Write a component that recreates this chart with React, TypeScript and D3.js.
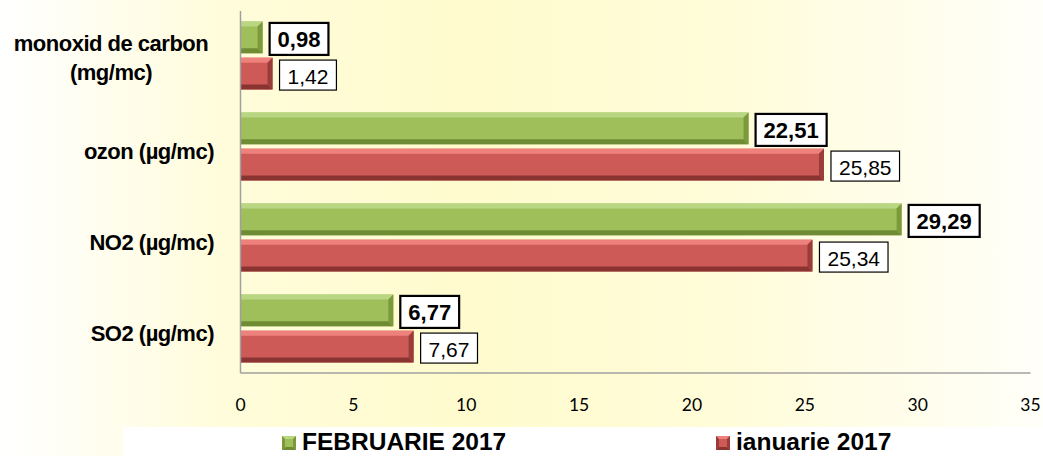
import React, { useEffect, useRef } from "react";
import * as d3 from "d3";

const categories: string[][] = [
  ["monoxid de carbon", "(mg/mc)"],
  ["ozon (µg/mc)"],
  ["NO2 (µg/mc)"],
  ["SO2 (µg/mc)"],
];
const seriesNames = ["FEBRUARIE 2017", "ianuarie 2017"];
const febValues = [0.98, 22.51, 29.29, 6.77];
const janValues = [1.42, 25.85, 25.34, 7.67];
const xTicks = [0, 5, 10, 15, 20, 25, 30, 35];

const W = 1043;
const H = 456;

const palettes = [
  { face: "#9EBF5A", top: "#B9D683", bottom: "#6F8C34", right: "#7C9A3C" },
  { face: "#CD5A56", top: "#EE817C", bottom: "#8A3432", right: "#9A3D3A" },
];

export default function App() {
  const ref = useRef<SVGSVGElement | null>(null);

  useEffect(() => {
    const svg = d3.select(ref.current);
    svg.selectAll("*").remove();

    const defs = svg.append("defs");
    const bg = defs
      .append("linearGradient")
      .attr("id", "bgGrad")
      .attr("x1", "0")
      .attr("x2", "1")
      .attr("y1", "0")
      .attr("y2", "0");
    [
      [0, "#FFFFFF"],
      [0.22, "#FFFCDA"],
      [0.45, "#FFFBCE"],
      [0.7, "#FFFCD9"],
      [1, "#FFFFF9"],
    ].forEach(([o, c]) => bg.append("stop").attr("offset", o as number).attr("stop-color", c as string));

    svg.append("rect").attr("x", 0).attr("y", 0).attr("width", W).attr("height", H).attr("fill", "url(#bgGrad)");
    svg.append("rect").attr("x", 123).attr("y", 427).attr("width", W - 123).attr("height", H - 427).attr("fill", "#FFFFFF");

    const x = d3.scaleLinear().domain([0, 35]).range([240.5, 1030.5]);
    const y = d3
      .scaleBand<number>()
      .domain(d3.range(categories.length))
      .range([10, 374])
      .paddingInner(0.253)
      .paddingOuter(0.1265);
    const sub = d3.scaleBand<number>().domain([0, 1]).range([0, y.bandwidth()]).paddingInner(0.12);

    const series = [febValues, janValues];
    const b = 5;

    const g = svg.append("g");
    series.forEach((vals, si) => {
      const p = palettes[si];
      vals.forEach((v, ci) => {
        const x0 = x(0);
        const x1 = x(v);
        const y0 = (y(ci) as number) + (sub(si) as number);
        const h = sub.bandwidth();
        const bb = Math.min(b, (x1 - x0) / 2);
        const bar = g.append("g");
        bar.append("rect").attr("x", x0).attr("y", y0).attr("width", x1 - x0).attr("height", h).attr("fill", p.face);
        const poly = (pts: number[][], fill: string) =>
          bar.append("polygon").attr("points", pts.map((q) => q.join(",")).join(" ")).attr("fill", fill);
        poly([[x0, y0], [x1, y0], [x1 - bb, y0 + b], [x0, y0 + b]], p.top);
        poly([[x0, y0 + h], [x1, y0 + h], [x1 - bb, y0 + h - b], [x0, y0 + h - b]], p.bottom);
        poly([[x1, y0], [x1, y0 + h], [x1 - bb, y0 + h - b], [x1 - bb, y0 + b]], p.right);

        // data label
        const label = d3.format(".2f")(v).replace(".", ",");
        const lg = g.append("g");
        const t = lg
          .append("text")
          .attr("font-family", "Arial, 'Liberation Sans', sans-serif")
          .attr("font-size", si === 0 ? 22 : 21)
          .attr("font-weight", si === 0 ? "bold" : "normal")
          .attr("dominant-baseline", "central")
          .attr("fill", "#000")
          .text(label);
        const tw = (t.node() as SVGTextElement).getComputedTextLength();
        const pad = 8;
        const bw = tw + pad * 2;
        const bh = si === 0 ? 32 : 30;
        const bx = x1 + 7;
        const cy = y0 + h / 2 + 1.5;
        lg.insert("rect", "text")
          .attr("x", bx)
          .attr("y", cy - bh / 2)
          .attr("width", bw)
          .attr("height", bh)
          .attr("fill", "#FFFFFF")
          .attr("stroke", "#000")
          .attr("stroke-width", si === 0 ? 2.2 : 1.2);
        t.attr("x", bx + pad).attr("y", cy + 1);
      });
    });

    // axis lines
    svg.append("line").attr("x1", x(0)).attr("x2", x(0)).attr("y1", 11).attr("y2", 373).attr("stroke", "#A0A0A0").attr("stroke-width", 1.5);
    svg.append("line").attr("x1", x(0)).attr("x2", x(35)).attr("y1", 373).attr("y2", 373).attr("stroke", "#A0A0A0").attr("stroke-width", 1.5);

    // x tick labels
    svg
      .append("g")
      .selectAll("text")
      .data(xTicks)
      .join("text")
      .attr("x", (d) => x(d))
      .attr("y", 404)
      .attr("text-anchor", "middle")
      .attr("dominant-baseline", "central")
      .attr("font-family", "Lato, 'Open Sans', sans-serif")
      .attr("font-size", 17.5)
      .attr("fill", "#000")
      .text((d) => String(d));

    // category labels
    categories.forEach((lines, ci) => {
      const cy = (y(ci) as number) + y.bandwidth() / 2;
      const multi = lines.length > 1;
      const lineH = 29;
      lines.forEach((ln, li) => {
        const yy = cy + 2 + (li - (lines.length - 1) / 2) * lineH + (multi ? 0 : 2.5);
        svg
          .append("text")
          .attr("x", multi ? 111 : 214)
          .attr("y", yy)
          .attr("text-anchor", multi ? "middle" : "end")
          .attr("dominant-baseline", "central")
          .attr("font-family", "Arial, 'Liberation Sans', sans-serif")
          .attr("font-weight", "bold")
          .attr("font-size", 22)
          .attr("letter-spacing", -0.5)
          .attr("fill", "#000")
          .text(ln);
      });
    });

    // legend
    const legendX = [282, 716];
    seriesNames.forEach((name, si) => {
      const p = palettes[si];
      const mx = legendX[si];
      const my = 436;
      const s = 14;
      const lg = svg.append("g");
      lg.append("rect").attr("x", mx).attr("y", my).attr("width", s).attr("height", s).attr("fill", p.face);
      const poly = (pts: number[][], fill: string) =>
        lg.append("polygon").attr("points", pts.map((q) => q.join(",")).join(" ")).attr("fill", fill);
      const e = 3;
      poly([[mx, my], [mx + s, my], [mx + s - e, my + e], [mx + e, my + e]], p.top);
      poly([[mx, my + s], [mx + s, my + s], [mx + s - e, my + s - e], [mx + e, my + s - e]], p.bottom);
      poly([[mx + s, my], [mx + s, my + s], [mx + s - e, my + s - e], [mx + s - e, my + e]], p.right);
      poly([[mx, my], [mx, my + s], [mx + e, my + s - e], [mx + e, my + e]], p.right);
      lg.append("text")
        .attr("x", mx + s + 6)
        .attr("y", 450)
        .attr("font-family", "Arial, 'Liberation Sans', sans-serif")
        .attr("font-weight", "bold")
        .attr("font-size", 24.5)
        .attr("fill", "#000")
        .text(name);
    });
  }, []);

  return (
    <div style={{ position: "absolute", left: 0, top: 0 }}>
      <svg ref={ref} width={W} height={H} style={{ display: "block" }} />
    </div>
  );
}
